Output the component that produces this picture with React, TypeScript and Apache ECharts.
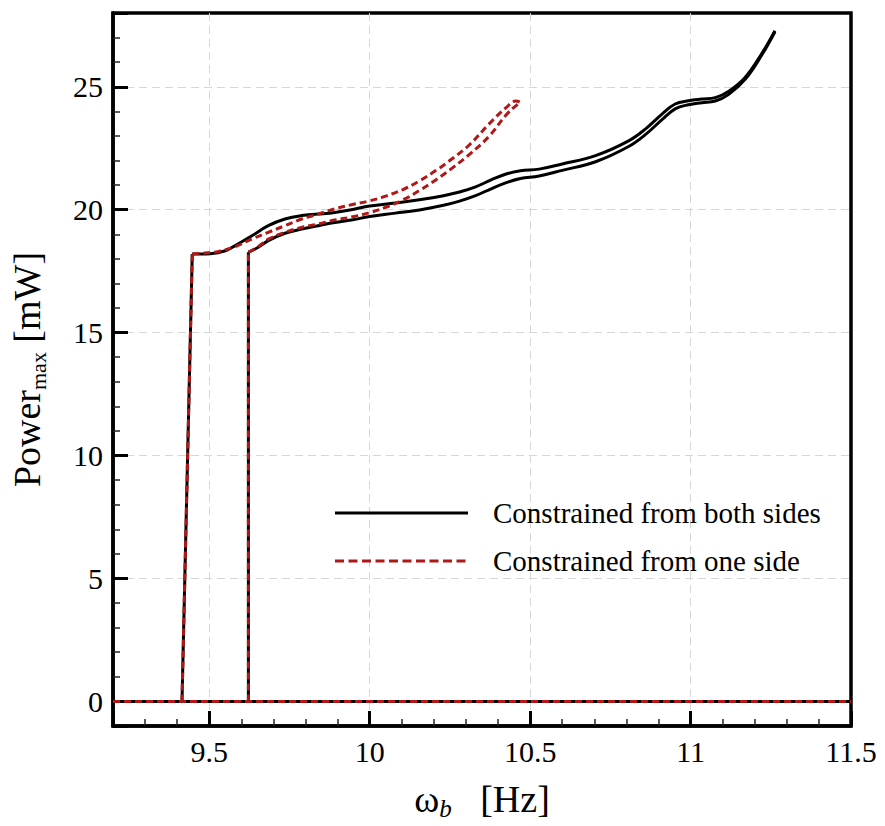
import React, { useEffect, useRef } from 'react';
import * as echarts from 'echarts';

const SERIF = "'Liberation Serif', 'Times New Roman', serif";
const BLACK = '#000000';
const RED = '#b01818';

// Vertical jumps (onset of power) for the two branches
const jumpLeftX = [9.415, 9.447];
const jumpLeftY = [0, 18.2];
const jumpRightX = [9.622, 9.622];
const jumpRightY = [0, 18.27];

// Constrained from both sides — branch starting at the left jump
const bothUpperX = [9.447, 9.475, 9.503, 9.55, 9.581, 9.633, 9.684, 9.736, 9.788, 9.839, 9.891, 9.943, 10.0, 10.08, 10.155, 10.23, 10.28, 10.33, 10.38, 10.43, 10.47, 10.528, 10.6, 10.704, 10.807, 10.859, 10.911, 10.952, 10.994, 11.035, 11.077, 11.118, 11.17, 11.221, 11.263];
const bothUpperY = [18.2, 18.2, 18.21, 18.33, 18.54, 18.94, 19.35, 19.62, 19.76, 19.82, 19.89, 20.0, 20.15, 20.27, 20.4, 20.57, 20.72, 20.93, 21.22, 21.47, 21.58, 21.65, 21.86, 22.2, 22.8, 23.28, 23.89, 24.3, 24.43, 24.5, 24.56, 24.81, 25.38, 26.33, 27.28];

// Constrained from both sides — branch starting at the right jump
const bothLowerX = [9.622, 9.653, 9.684, 9.736, 9.788, 9.839, 9.891, 9.943, 10.0, 10.08, 10.155, 10.23, 10.28, 10.33, 10.38, 10.43, 10.47, 10.528, 10.6, 10.704, 10.807, 10.859, 10.911, 10.952, 10.994, 11.035, 11.077, 11.118, 11.17, 11.221, 11.263];
const bothLowerY = [18.27, 18.47, 18.74, 19.04, 19.21, 19.35, 19.48, 19.58, 19.72, 19.86, 19.99, 20.18, 20.35, 20.57, 20.86, 21.12, 21.27, 21.37, 21.6, 21.95, 22.57, 23.05, 23.66, 24.1, 24.27, 24.35, 24.42, 24.68, 25.3, 26.27, 27.24];

// Constrained from one side — branch starting at the left jump
const oneUpperX = [9.447, 9.475, 9.503, 9.529, 9.581, 9.633, 9.684, 9.736, 9.788, 9.839, 9.891, 9.943, 10.0, 10.05, 10.104, 10.155, 10.207, 10.26, 10.311, 10.373, 10.425, 10.456, 10.471];
const oneUpperY = [18.2, 18.22, 18.26, 18.3, 18.5, 18.81, 19.08, 19.35, 19.62, 19.82, 20.03, 20.2, 20.36, 20.55, 20.82, 21.17, 21.6, 22.1, 22.64, 23.5, 24.15, 24.42, 24.36];

// Constrained from one side — branch starting at the right jump
const oneLowerX = [9.622, 9.653, 9.684, 9.736, 9.788, 9.839, 9.891, 9.943, 10.0, 10.05, 10.104, 10.155, 10.207, 10.26, 10.311, 10.373, 10.425, 10.461, 10.471];
const oneLowerY = [18.27, 18.5, 18.8, 19.08, 19.28, 19.42, 19.58, 19.7, 19.88, 20.1, 20.4, 20.78, 21.22, 21.72, 22.25, 23.0, 23.85, 24.28, 24.36];

// Trivial (zero-power) branch
const zeroX = [9.2, 11.5];
const zeroY = [0, 0];

const NAME_BOTH = 'Constrained from both sides';
const NAME_ONE = 'Constrained from one side';

const pairs = (xs: number[], ys: number[]) => xs.map((x, i) => [x, ys[i]]);

const lineSeries = (name: string, xs: number[], ys: number[], color: string, dashed: boolean, smooth: number) => ({
  type: 'line',
  name,
  data: pairs(xs, ys),
  showSymbol: false,
  symbol: 'none',
  smooth,
  lineStyle: { color, width: 3, type: dashed ? [7, 4] : 'solid', cap: 'butt', join: 'round' },
  itemStyle: { color },
  emphasis: { disabled: true },
  z: dashed ? 3 : 2,
});

export default function App() {
  const ref = useRef<HTMLDivElement>(null);
  useEffect(() => {
    document.body.style.margin = '0';
    const chart = echarts.init(ref.current!, null, { renderer: 'svg' });
    const axisNameRich = {
      a: { fontSize: 38, lineHeight: 44, fontFamily: SERIF, color: BLACK },
      s: { fontSize: 25, lineHeight: 18, fontFamily: SERIF, fontStyle: 'italic', color: BLACK, verticalAlign: 'bottom' },
      m: { fontSize: 22, lineHeight: 16, fontFamily: SERIF, color: BLACK, verticalAlign: 'bottom' },
    };
    const legendFont = { fontSize: 29, fontFamily: SERIF, fill: BLACK, verticalAlign: 'middle', align: 'left' };
    chart.setOption({
      animation: false,
      backgroundColor: '#ffffff',
      textStyle: { fontFamily: SERIF },
      grid: {
        left: 113, right: 34, top: 13, bottom: 100,
        show: true, borderColor: BLACK, borderWidth: 3.5, backgroundColor: 'transparent',
      },
      graphic: [
        { type: 'line', shape: { x1: 335, y1: 513, x2: 468, y2: 513 }, style: { stroke: BLACK, lineWidth: 3 }, z: 10 },
        { type: 'text', x: 493, y: 513, style: { text: NAME_BOTH, ...legendFont }, z: 10 },
        { type: 'line', shape: { x1: 335, y1: 561, x2: 468, y2: 561 }, style: { stroke: RED, lineWidth: 3, lineDash: [9, 4.5] }, z: 10 },
        { type: 'text', x: 493, y: 561, style: { text: NAME_ONE, ...legendFont }, z: 10 },
      ],
      xAxis: {
        type: 'value',
        min: 9.2,
        max: 11.5,
        splitNumber: 5,
        axisLine: { show: true, onZero: false, lineStyle: { color: BLACK, width: 3.5 } },
        axisTick: { show: true, inside: true, length: 15, lineStyle: { color: BLACK, width: 3 } },
        minorTick: { show: true, splitNumber: 5, length: 7, lineStyle: { color: '#222', width: 1.5 } },
        splitLine: { show: true, showMinLine: false, showMaxLine: false, lineStyle: { color: '#d6d6d6', width: 1, type: [8, 5] } },
        axisLabel: { showMinLabel: false, margin: 10, fontSize: 30, fontFamily: SERIF, color: BLACK },
        name: '{a|ω}{s|b}{a|   [Hz]}',
        nameLocation: 'middle',
        nameGap: 51,
        nameTextStyle: { fontFamily: SERIF, fontSize: 38, color: BLACK, rich: axisNameRich },
      },
      yAxis: {
        type: 'value',
        min: -1,
        max: 28,
        splitNumber: 5,
        axisLine: { show: true, onZero: false, lineStyle: { color: BLACK, width: 3.5 } },
        axisTick: { show: true, inside: true, length: 15, lineStyle: { color: BLACK, width: 3 } },
        minorTick: { show: true, splitNumber: 5, length: 7, lineStyle: { color: '#222', width: 1.5 } },
        splitLine: { show: true, showMinLine: false, showMaxLine: false, lineStyle: { color: '#d6d6d6', width: 1, type: [8, 5] } },
        axisLabel: { showMinLabel: false, showMaxLabel: false, margin: 10, fontSize: 30, fontFamily: SERIF, color: BLACK },
        name: '{a|Power}{m|max}{a| [mW]}',
        nameLocation: 'middle',
        nameGap: 64,
        nameTextStyle: { fontFamily: SERIF, fontSize: 38, color: BLACK, rich: axisNameRich },
      },
      series: [
        lineSeries(NAME_BOTH, zeroX, zeroY, BLACK, false, 0),
        lineSeries(NAME_BOTH, jumpLeftX, jumpLeftY, BLACK, false, 0),
        lineSeries(NAME_BOTH, jumpRightX, jumpRightY, BLACK, false, 0),
        lineSeries(NAME_BOTH, bothUpperX, bothUpperY, BLACK, false, 0.4),
        lineSeries(NAME_BOTH, bothLowerX, bothLowerY, BLACK, false, 0.4),
        lineSeries(NAME_ONE, zeroX, zeroY, RED, true, 0),
        lineSeries(NAME_ONE, jumpLeftX, jumpLeftY, RED, true, 0),
        lineSeries(NAME_ONE, jumpRightX, jumpRightY, RED, true, 0),
        lineSeries(NAME_ONE, oneUpperX, oneUpperY, RED, true, 0.4),
        lineSeries(NAME_ONE, oneLowerX, oneLowerY, RED, true, 0.4),
      ],
    });
    return () => chart.dispose();
  }, []);
  return <div ref={ref} style={{ width: 885, height: 826 }} />;
}
